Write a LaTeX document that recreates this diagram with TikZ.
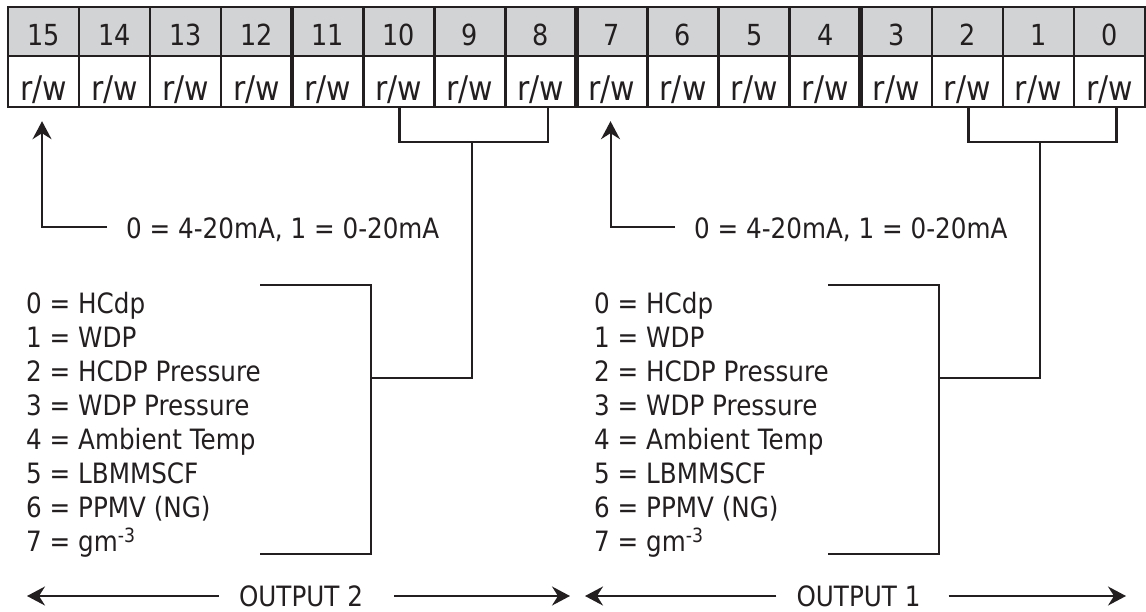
\documentclass[tikz,border=0pt]{standalone}
\usepackage{fontspec}
\setmainfont{DejaVu Sans}[FakeStretch=0.88]
\usetikzlibrary{arrows.meta}
\definecolor{hdr}{HTML}{D1D3D4}
\definecolor{ink}{HTML}{231F20}
\tikzset{
  cellbox/.style={draw=ink, line width=2.4pt, inner sep=0pt, minimum width=71.06pt, text=ink},
  hcell/.style={cellbox, fill=hdr, minimum height=49pt, text height=27pt, text depth=0pt, font=\fontsize{29}{32}\selectfont},
  rcell/.style={cellbox, fill=white, minimum height=51pt, text height=37pt, text depth=0pt, font=\fontsize{34}{36}\selectfont},
  groupline/.style={draw=ink, line width=4.5pt},
  conn/.style={draw=ink, line width=2pt},
  brk/.style={draw=ink, line width=2.8pt},
  arr/.style={draw=ink, line width=2pt, -{Stealth[length=18pt,width=19pt,inset=6pt]}},
  txt/.style={inner sep=0pt, text=ink, font=\fontsize{28}{34}\selectfont},
}
\begin{document}
\begin{tikzpicture}[x=1pt,y=-1pt]
\useasboundingbox (0,0) rectangle (1146,611);
\fill[white] (0,0) rectangle (1146,611);
% register cells
\foreach \i in {0,...,15} {
  \pgfmathtruncatemacro\b{15-\i}
  \pgfmathsetmacro\xc{8+(\i+0.5)*71.06}
  \node[hcell] (h\b) at (\xc,31.5) {\b};
  \node[rcell] (c\b) at (\xc,81.5) {r/w};
}
% group separators
\foreach \g in {4,8,12} {
  \draw[groupline] (8+\g*71.06,7) -- (8+\g*71.06,107);
}
% two output halves
\foreach \o/\k/\a/\b/\c in {0/2/10/8/15, 568/1/2/0/7} {
  % mode selection arrow
  \node[txt, anchor=base west] (m\k) at (126+\o,238) {0 = 4-20mA, 1 = 0-20mA};
  \coordinate (ms\k) at ([xshift=-19pt]m\k.west |- 0,227);
  \draw[arr] (ms\k) -| ([xshift=-1.5pt,yshift=-13pt]c\c.south);
  % bracket under bits
  \coordinate (bj\k) at (472+\o,142);
  \draw[brk] ([xshift=1pt]c\a.south) |- (bj\k) -| ([xshift=7pt]c\b.south);
  % list
  \node[txt, anchor=base west] (l\k-0) at (26+\o,313.5) {0 = HCdp};
  \node[txt, anchor=base west] (l\k-1) at (26+\o,347.5) {1 = WDP};
  \node[txt, anchor=base west] (l\k-2) at (26+\o,381.5) {2 = HCDP Pressure};
  \node[txt, anchor=base west] (l\k-3) at (26+\o,415.5) {3 = WDP Pressure};
  \node[txt, anchor=base west] (l\k-4) at (26+\o,449.5) {4 = Ambient Temp};
  \node[txt, anchor=base west] (l\k-5) at (26+\o,483.5) {5 = LBMMSCF};
  \node[txt, anchor=base west] (l\k-6) at (26+\o,517.5) {6 = PPMV (NG)};
  \node[txt, anchor=base west] (l\k-7) at (26+\o,551.5) {7 = gm\textsuperscript{-3}};
  \coordinate (lt\k) at (260+\o,285);
  \coordinate (ltr\k) at (371+\o,285);
  \coordinate (lbr\k) at (371+\o,554);
  \coordinate (lb\k) at (260+\o,554);
  \coordinate (lj\k) at (371+\o,378);
  \draw[conn] (lt\k) -- (ltr\k) -- (lbr\k) -- (lb\k);
  \draw[conn] (bj\k) |- (lj\k);
}
% output ranges
\node[txt] (out2) at (301,596) {OUTPUT 2};
\node[txt] (out1) at (858.5,596) {OUTPUT 1};
\coordinate (l2tip) at (27,596);
\coordinate (r2tip) at (570,596);
\coordinate (l1tip) at (585,596);
\coordinate (r1tip) at (1126,596);
\draw[arr] ([xshift=-20pt]out2.west) -- (l2tip);
\draw[arr] ([xshift=31pt]out2.east) -- (r2tip);
\draw[arr] ([xshift=-20pt]out1.west) -- (l1tip);
\draw[arr] ([xshift=28pt]out1.east) -- (r1tip);
\end{tikzpicture}
\end{document}
